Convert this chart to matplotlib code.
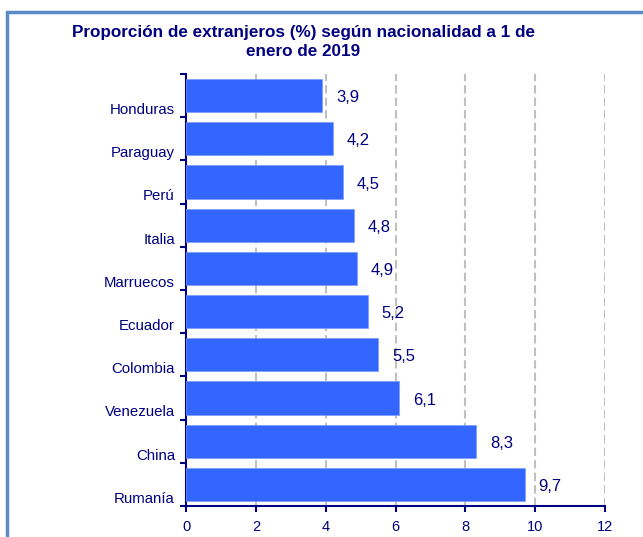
import matplotlib
matplotlib.use("Agg")
import matplotlib.pyplot as plt
from matplotlib.patches import Rectangle
import numpy as np

categories = ["Honduras", "Paraguay", "Perú", "Italia", "Marruecos",
              "Ecuador", "Colombia", "Venezuela", "China", "Rumanía"]
values = [3.9, 4.2, 4.5, 4.8, 4.9, 5.2, 5.5, 6.1, 8.3, 9.7]
value_labels = ["3,9", "4,2", "4,5", "4,8", "4,9", "5,2", "5,5", "6,1", "8,3", "9,7"]
xticks = [0, 2, 4, 6, 8, 10, 12]

navy = "#000080"
plt.rcParams['font.family'] = ['Liberation Sans', 'DejaVu Sans']

fig = plt.figure(figsize=(6.43, 5.37), dpi=100)
ax = fig.add_axes([186/643, 1-506/537, (605-186)/643, (506-74)/537])

y = np.arange(len(categories))
ax.barh(y, values, height=0.77, color="#3366FF", edgecolor="#7a9cff", linewidth=0.5, zorder=3)
for yi, v, lab in zip(y, values, value_labels):
    ax.text(v + 0.4, yi + 0.05, lab, va="center", ha="left", fontsize=12, color=navy)

ax.set_ylim(len(categories) - 0.5, -0.5)
ax.set_xlim(0, 12)
ax.set_xticks(xticks)
ax.set_xticklabels([str(t) for t in xticks], color=navy, fontsize=10.5)
ax.set_yticks(y + 0.3)
ax.set_yticklabels(categories, color=navy, fontsize=10.8)
ax.tick_params(axis='y', which='major', length=0, pad=8)
ax.set_yticks(np.arange(-0.5, len(categories), 1), minor=True)
ax.tick_params(axis='y', which='minor', length=4, width=1.5, color=navy, direction='out')
ax.tick_params(axis='x', length=4, width=1.5, color=navy, direction='out', pad=6)

for t in xticks[1:]:
    ax.axvline(t, color="#c0c0c0", linestyle=(0, (4, 2)), linewidth=1.5, zorder=1)

for s in ["top", "right"]:
    ax.spines[s].set_visible(False)
ax.spines["left"].set_color(navy)
ax.spines["bottom"].set_color(navy)
ax.spines["left"].set_linewidth(1.5)
ax.spines["bottom"].set_linewidth(1.5)

fig.text(303/643, 1-32/537, "Proporción de extranjeros (%) según nacionalidad a 1 de",
         ha="center", va="center", fontsize=12.3, fontweight="bold", color=navy)
fig.text(303/643, 1-51/537, "enero de 2019",
         ha="center", va="center", fontsize=12.3, fontweight="bold", color=navy)

fig.add_artist(Rectangle((7/643, -0.1), 1.2, 1 - 12/537 + 0.1, transform=fig.transFigure,
                         fill=False, edgecolor="#5b8ac6", linewidth=2.5))

fig.savefig("out.png", dpi=100)
